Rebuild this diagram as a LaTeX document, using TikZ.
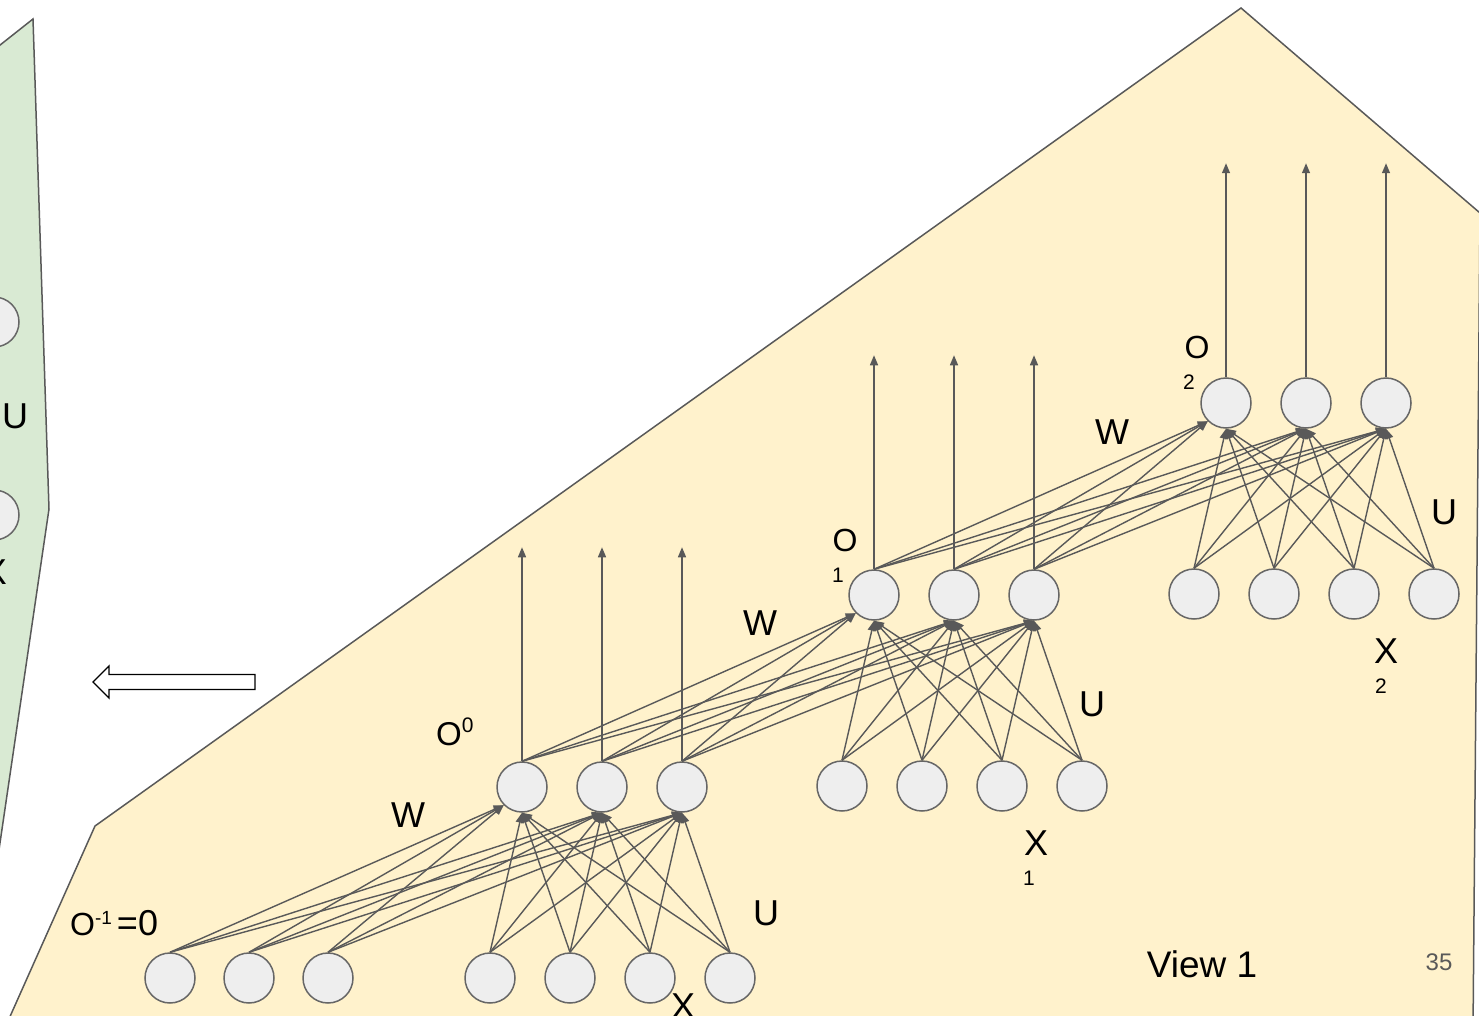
\documentclass[tikz,border=0pt]{standalone}
\usepackage{fontspec}
\setmainfont{Liberation Sans}
\usetikzlibrary{arrows.meta}

\definecolor{viewfill}{HTML}{FFF2CC}
\definecolor{panelfill}{HTML}{D9EAD3}
\definecolor{edgegray}{HTML}{595959}
\definecolor{unitfill}{HTML}{EEEEEE}
\definecolor{unitdraw}{HTML}{666666}

\tikzset{
  unit/.style={circle, minimum size=50pt, inner sep=0pt, fill=unitfill, draw=unitdraw, line width=1.5pt},
  link/.style={draw=edgegray, line width=1.4pt, -{Triangle[length=10pt,width=8pt]}},
  border/.style={draw=edgegray, line width=1.5pt},
  biglab/.style={font=\fontsize{36}{36}\selectfont, inner sep=0pt},
  olab/.style={font=\fontsize{32}{32}\selectfont, inner sep=0pt},
  idx/.style={font=\fontsize{21}{21}\selectfont, inner sep=0pt},
}

\begin{document}
\begin{tikzpicture}[x=1pt, y=-1pt]
    % Shift from one time step to the next
    \def\layerdx{352}
    \def\layerdy{192}

    \clip (0,0) rectangle (1479,1016);

    % Green panel on the left
    \fill[panelfill] (-10,53) -- (33,19) -- (49,509) -- (-10,911) -- cycle;
    \draw[border] (-10,53) -- (33,19) -- (49,509) -- (-10,911);
    \node[unit] (G1) at (-6,322) {};
    \node[unit] (G2) at (-6,515) {};
    \node[biglab] (GU) at (15,416) {U};
    \node[biglab] (GX) at (-5,572) {X};

    % Hollow arrow pointing to the panel
    \draw[line width=1.3pt, fill=white] (255,674.5) -- (109,674.5) -- (109,666) -- (93,682)
        -- (109,698) -- (109,689.5) -- (255,689.5) -- cycle;

    % Yellow unrolled view
    \filldraw[border, fill=viewfill] (95,826) -- (1241,8) -- (1480,213) -- (1473,1030) -- (4,1030) -- cycle;

    % Initial state O^{-1}
    \foreach \i in {1,2,3}
        \node[unit] (Om\i) at ({170+79*(\i-1)}, 978) {};

    % Output units O and input units X of each step
    \foreach \k in {0,1,2} {
        \foreach \i in {1,2,3}
            \node[unit] (O\k\i) at ({522+80*(\i-1)+\layerdx*\k}, {787-\layerdy*\k}) {};
        \foreach \j in {1,...,4}
            \node[unit] (X\k\j) at ({490+80*(\j-1)+\layerdx*\k}, {978-\layerdy*\k}) {};
    }

    % Connections: W from previous outputs, U from inputs, then outputs upward
    \foreach \p/\k in {m/0,0/1,1/2} {
        \foreach \i in {1,2,3} {
            \draw[link] (O\p\i.north) -- (O\k1.south west);
            \draw[link] (O\p\i.north) -- (O\k2.south);
            \draw[link] (O\p\i.north) -- (O\k3.south);
        }
        \foreach \j in {1,...,4}
            \foreach \i in {1,2,3}
                \draw[link] (X\k\j.north) -- (O\k\i.south);
        \foreach \i in {1,2,3}
            \draw[link] (O\k\i.north) -- ++(0,-214) coordinate (T\k\i);
    }

    % Labels
    \node[olab, anchor=base west] (Ominit) at (70,935)
        {O\raisebox{11pt}{\fontsize{19}{19}\selectfont -1}\kern5pt\fontsize{36}{36}\selectfont =0};
    \node[font=\fontsize{33}{33}\selectfont, inner sep=0pt, anchor=base west] (O0lab) at (436,745)
        {O\raisebox{13pt}{\fontsize{21}{21}\selectfont 0}};
    \node[olab] (O1lab) at (845,540) {O};
    \node[idx] (O1idx) at (838,575) {1};
    \node[olab] (O2lab) at (1197,347) {O};
    \node[idx] (O2idx) at (1189,382) {2};

    \node[biglab] (W0) at (408,815) {W};
    \node[biglab] (W1) at (760,623) {W};
    \node[biglab] (W2) at (1112,432) {W};

    \node[biglab] (U0) at (766,913) {U};
    \node[biglab] (U1) at (1092,704) {U};
    \node[biglab] (U2) at (1444,512) {U};

    \node[biglab] (X0lab) at (683,1006) {X};
    \node[biglab] (X1lab) at (1036,843) {X};
    \node[idx] (X1idx) at (1029,878) {1};
    \node[biglab] (X2lab) at (1386,651) {X};
    \node[idx] (X2idx) at (1381,686) {2};

    \node[font=\fontsize{37}{37}\selectfont, inner sep=0pt] (view) at (1202,964) {View 1};
    \node[font=\fontsize{24}{24}\selectfont, inner sep=0pt, text=edgegray] (page) at (1439,962) {35};
\end{tikzpicture}
\end{document}
